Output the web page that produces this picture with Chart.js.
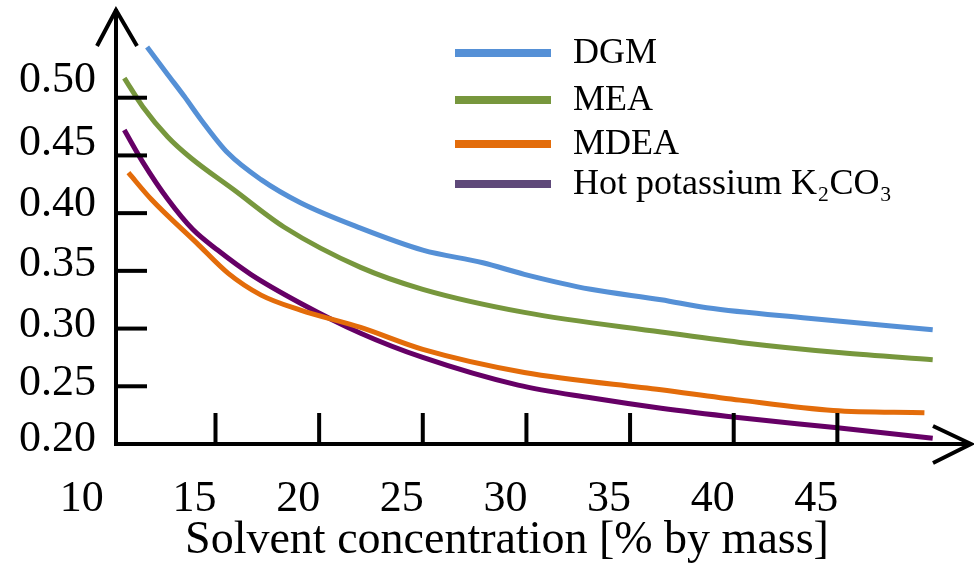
<!DOCTYPE html>
<html>
<head>
<meta charset="utf-8">
<script src="https://cdn.jsdelivr.net/npm/chart.js@4.4.1/dist/chart.umd.min.js"></script>
<style>
  html, body { margin: 0; padding: 0; background: #fff; }
  #wrap { width: 974px; height: 563px; }
</style>
</head>
<body>
<div id="wrap"><canvas id="chart"></canvas></div>
<script>
const seriesNames = ["DGM", "MEA", "MDEA", "Hot potassium K\u2082CO\u2083"];

const dgmX = [11.7, 12.7, 13.5, 14.3, 15.6, 17.2, 19.1, 22, 25, 27.9, 29.9, 33.1, 36.5, 38.7, 43.6, 49.6];
const dgmY = [0.544, 0.520, 0.501, 0.481, 0.452, 0.429, 0.409, 0.387, 0.368, 0.357, 0.347, 0.334, 0.325, 0.318, 0.309, 0.299];

const meaX = [10.6, 11.5, 12.7, 13.8, 15.9, 18.3, 22, 25, 29.9, 36.5, 40.3, 45.2, 49.6];
const meaY = [0.517, 0.492, 0.466, 0.448, 0.420, 0.388, 0.353, 0.334, 0.314, 0.297, 0.288, 0.279, 0.273];

const mdeaX = [10.8, 11.9, 14.1, 15.6, 17.2, 19.1, 22, 25, 29.9, 36.5, 40.3, 44.8, 49.2];
const mdeaY = [0.435, 0.412, 0.374, 0.348, 0.329, 0.316, 0.301, 0.282, 0.262, 0.247, 0.238, 0.229, 0.227];

const hotX = [10.6, 11.5, 12.7, 13.9, 15.1, 16.7, 19.1, 22, 25, 29.6, 33.1, 36.5, 40.2, 45, 49.6];
const hotY = [0.472, 0.444, 0.412, 0.386, 0.368, 0.347, 0.322, 0.296, 0.275, 0.251, 0.240, 0.231, 0.223, 0.214, 0.205];

const xTicks = [10, 15, 20, 25, 30, 35, 40, 45];
const yTicks = [0.20, 0.25, 0.30, 0.35, 0.40, 0.45, 0.50];

const lineColors = ["#5590d6", "#77973d", "#e36c0a", "#660066"];
const legendColors = ["#5590d6", "#77973d", "#e36c0a", "#5f497a"];

function pts(xs, ys) {
    return xs.map((x, i) => ({ x: x, y: ys[i] }));
}

const serif = "'Liberation Serif', 'Times New Roman', serif";

// axes with arrows, inward ticks, labels and legend
const axesPlugin = {
    id: "axesPlugin",
    afterDraw(chart) {
        const ctx = chart.ctx;
        const xs = chart.scales.x;
        const ys = chart.scales.y;
        const left = chart.chartArea.left;
        const bottom = chart.chartArea.bottom;
        const top = chart.chartArea.top;
        const right = chart.chartArea.right;

        ctx.save();
        ctx.strokeStyle = "#000";
        ctx.lineWidth = 4;
        ctx.lineCap = "butt";

        // y axis
        ctx.beginPath();
        ctx.moveTo(left, bottom + 2);
        ctx.lineTo(left, top - 31);
        ctx.stroke();
        ctx.beginPath();
        ctx.moveTo(left - 19, top + 6);
        ctx.lineTo(left, top - 30);
        ctx.lineTo(left + 21, top + 6);
        ctx.stroke();

        // x axis
        ctx.beginPath();
        ctx.moveTo(left - 2, bottom);
        ctx.lineTo(right + 30, bottom);
        ctx.stroke();
        ctx.beginPath();
        ctx.moveTo(right - 8, bottom - 18);
        ctx.lineTo(right + 30, bottom);
        ctx.lineTo(right - 8, bottom + 19);
        ctx.stroke();

        // ticks
        yTicks.forEach(v => {
            if (v <= 0.2) return;
            const py = ys.getPixelForValue(v);
            ctx.beginPath();
            ctx.moveTo(left, py);
            ctx.lineTo(left + 31, py);
            ctx.stroke();
        });
        xTicks.forEach(v => {
            if (v <= 10) return;
            const px = xs.getPixelForValue(v);
            ctx.beginPath();
            ctx.moveTo(px, bottom);
            ctx.lineTo(px, bottom - 31);
            ctx.stroke();
        });

        // tick labels (the original sets them slightly off the tick marks)
        const yNudge = [-5, -3, -3, -6, -9, -12, -17];
        ctx.fillStyle = "#000";
        ctx.font = "44px " + serif;
        ctx.textAlign = "right";
        ctx.textBaseline = "middle";
        yTicks.forEach((v, i) => {
            ctx.fillText(v.toFixed(2), 96, ys.getPixelForValue(v) + yNudge[i]);
        });
        ctx.textAlign = "center";
        xTicks.forEach(v => {
            const px = xs.getPixelForValue(v) - 21 - (v === 10 ? 9 : 0);
            ctx.fillText(String(v), px, bottom + 55);
        });

        // axis title
        ctx.font = "46px " + serif;
        ctx.fillText("Solvent concentration [% by mass]", 507, bottom + 97);

        // legend
        const rows = [53, 100, 144, 184];
        ctx.font = "36px " + serif;
        ctx.textAlign = "left";
        chart.data.datasets.forEach((ds, i) => {
            ctx.fillStyle = legendColors[i];
            ctx.fillRect(455, rows[i] - 4, 96, 8);
            ctx.fillStyle = "#000";
            ctx.fillText(ds.label, 573, rows[i] + 1);
        });
        ctx.restore();
    }
};

const allX = [dgmX, meaX, mdeaX, hotX];
const allY = [dgmY, meaY, mdeaY, hotY];

new Chart(document.getElementById("chart"), {
    type: "line",
    data: {
        datasets: seriesNames.map((name, i) => ({
            label: name,
            data: pts(allX[i], allY[i]),
            borderColor: lineColors[i],
            backgroundColor: lineColors[i],
            borderWidth: 5,
            pointRadius: 0,
            cubicInterpolationMode: "monotone",
            fill: false,
            clip: false
        }))
    },
    options: {
        responsive: true,
        maintainAspectRatio: false,
        animation: false,
        layout: {
            padding: { left: 116, right: 33, top: 40, bottom: 119 }
        },
        plugins: {
            legend: { display: false },
            tooltip: { enabled: false }
        },
        scales: {
            x: { type: "linear", min: 10.2, max: 50, display: false },
            y: { type: "linear", min: 0.2, max: 0.55, display: false }
        }
    },
    plugins: [axesPlugin]
});
</script>
</body>
</html>
